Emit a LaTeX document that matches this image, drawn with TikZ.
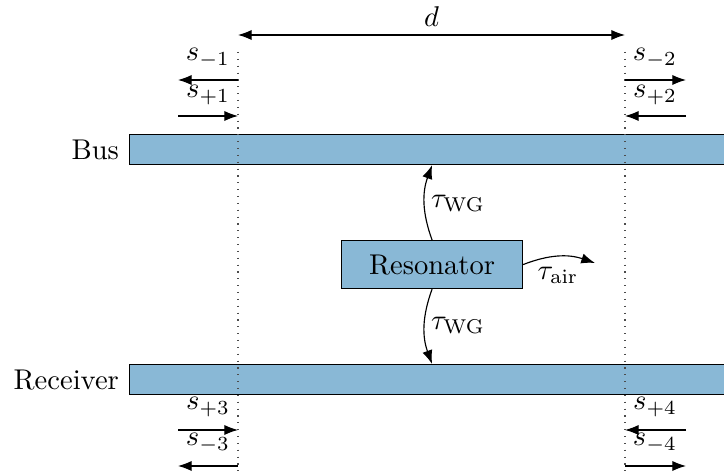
\documentclass[tikz,border=0pt]{standalone}
\usetikzlibrary{arrows.meta}
\definecolor{wg}{RGB}{137,184,214}
\begin{document}
\begin{tikzpicture}[x=0.35pt,y=-0.35pt,>={Latex},
  wgbox/.style={draw,fill=wg,inner sep=0pt,anchor=north west},
  guide/.style={dotted,black!70},
  lbl/.style={inner sep=0pt}]
\clip (0,0) rectangle (724,475);
% waveguides and resonator
\node[wgbox,minimum width=215pt,minimum height=10.5pt] (bus) at (129,134) {};
\node[wgbox,minimum width=215pt,minimum height=10.5pt] (rec) at (129,364) {};
\node[wgbox,minimum width=63.35pt,minimum height=16.8pt] (res) at (341,240) {};
\node at (res.center) {Resonator};
\node[left] (buslbl) at (bus.west) {Bus};
\node[left] (reclbl) at (rec.west) {Receiver};
% guide lines
\coordinate (g1t) at (238,52);
\coordinate (g1b) at (238,478);
\coordinate (g2t) at (625,52);
\coordinate (g2b) at (625,478);
\draw[guide] (g1t) -- (g1b);
\draw[guide] (g2t) -- (g2b);
% distance d
\coordinate (d1) at (238,35);
\coordinate (d2) at (625,35);
\draw[<->] (d1) -- (d2);
\node (dl) at (431.5,17) {$d$};
% coupling arrows
\draw[->] (res.north) to[bend left=20] (res.north |- bus.south);
\draw[->] (res.south) to[bend right=20] (res.south |- rec.north);
\coordinate (air) at (595,263);
\draw[->] (res.east) to[bend left=20] (air);
\node (t1) at (458,203) {$\tau_{\mathrm{WG}}$};
\node (t2) at (458,325) {$\tau_{\mathrm{WG}}$};
\node (t3) at (558,275) {$\tau_{\mathrm{air}}$};
% port arrows top left
\coordinate (a1r) at (238,80); \coordinate (a1l) at (178,80);
\coordinate (b1r) at (238,116); \coordinate (b1l) at (178,116);
\draw[->] (a1r) -- (a1l);
\draw[->] (b1l) -- (b1r);
\node (sm1) at (208,58) {$s_{-1}$};
\node (sp1) at (208,95) {$s_{+1}$};
% top right
\coordinate (a2l) at (625,80); \coordinate (a2r) at (686,80);
\coordinate (b2l) at (625,116); \coordinate (b2r) at (686,116);
\draw[->] (a2l) -- (a2r);
\draw[->] (b2r) -- (b2l);
\node (sm2) at (655,58) {$s_{-2}$};
\node (sp2) at (655,95) {$s_{+2}$};
% bottom left
\coordinate (a3r) at (238,430); \coordinate (a3l) at (178,430);
\coordinate (b3r) at (238,466); \coordinate (b3l) at (178,466);
\draw[->] (a3l) -- (a3r);
\draw[->] (b3r) -- (b3l);
\node (sp3) at (208,407) {$s_{+3}$};
\node (sm3) at (208,443) {$s_{-3}$};
% bottom right
\coordinate (a4l) at (625,430); \coordinate (a4r) at (686,430);
\coordinate (b4l) at (625,466); \coordinate (b4r) at (686,466);
\draw[->] (a4r) -- (a4l);
\draw[->] (b4l) -- (b4r);
\node (sp4) at (655,407) {$s_{+4}$};
\node (sm4) at (655,443) {$s_{-4}$};
\end{tikzpicture}
\end{document}
